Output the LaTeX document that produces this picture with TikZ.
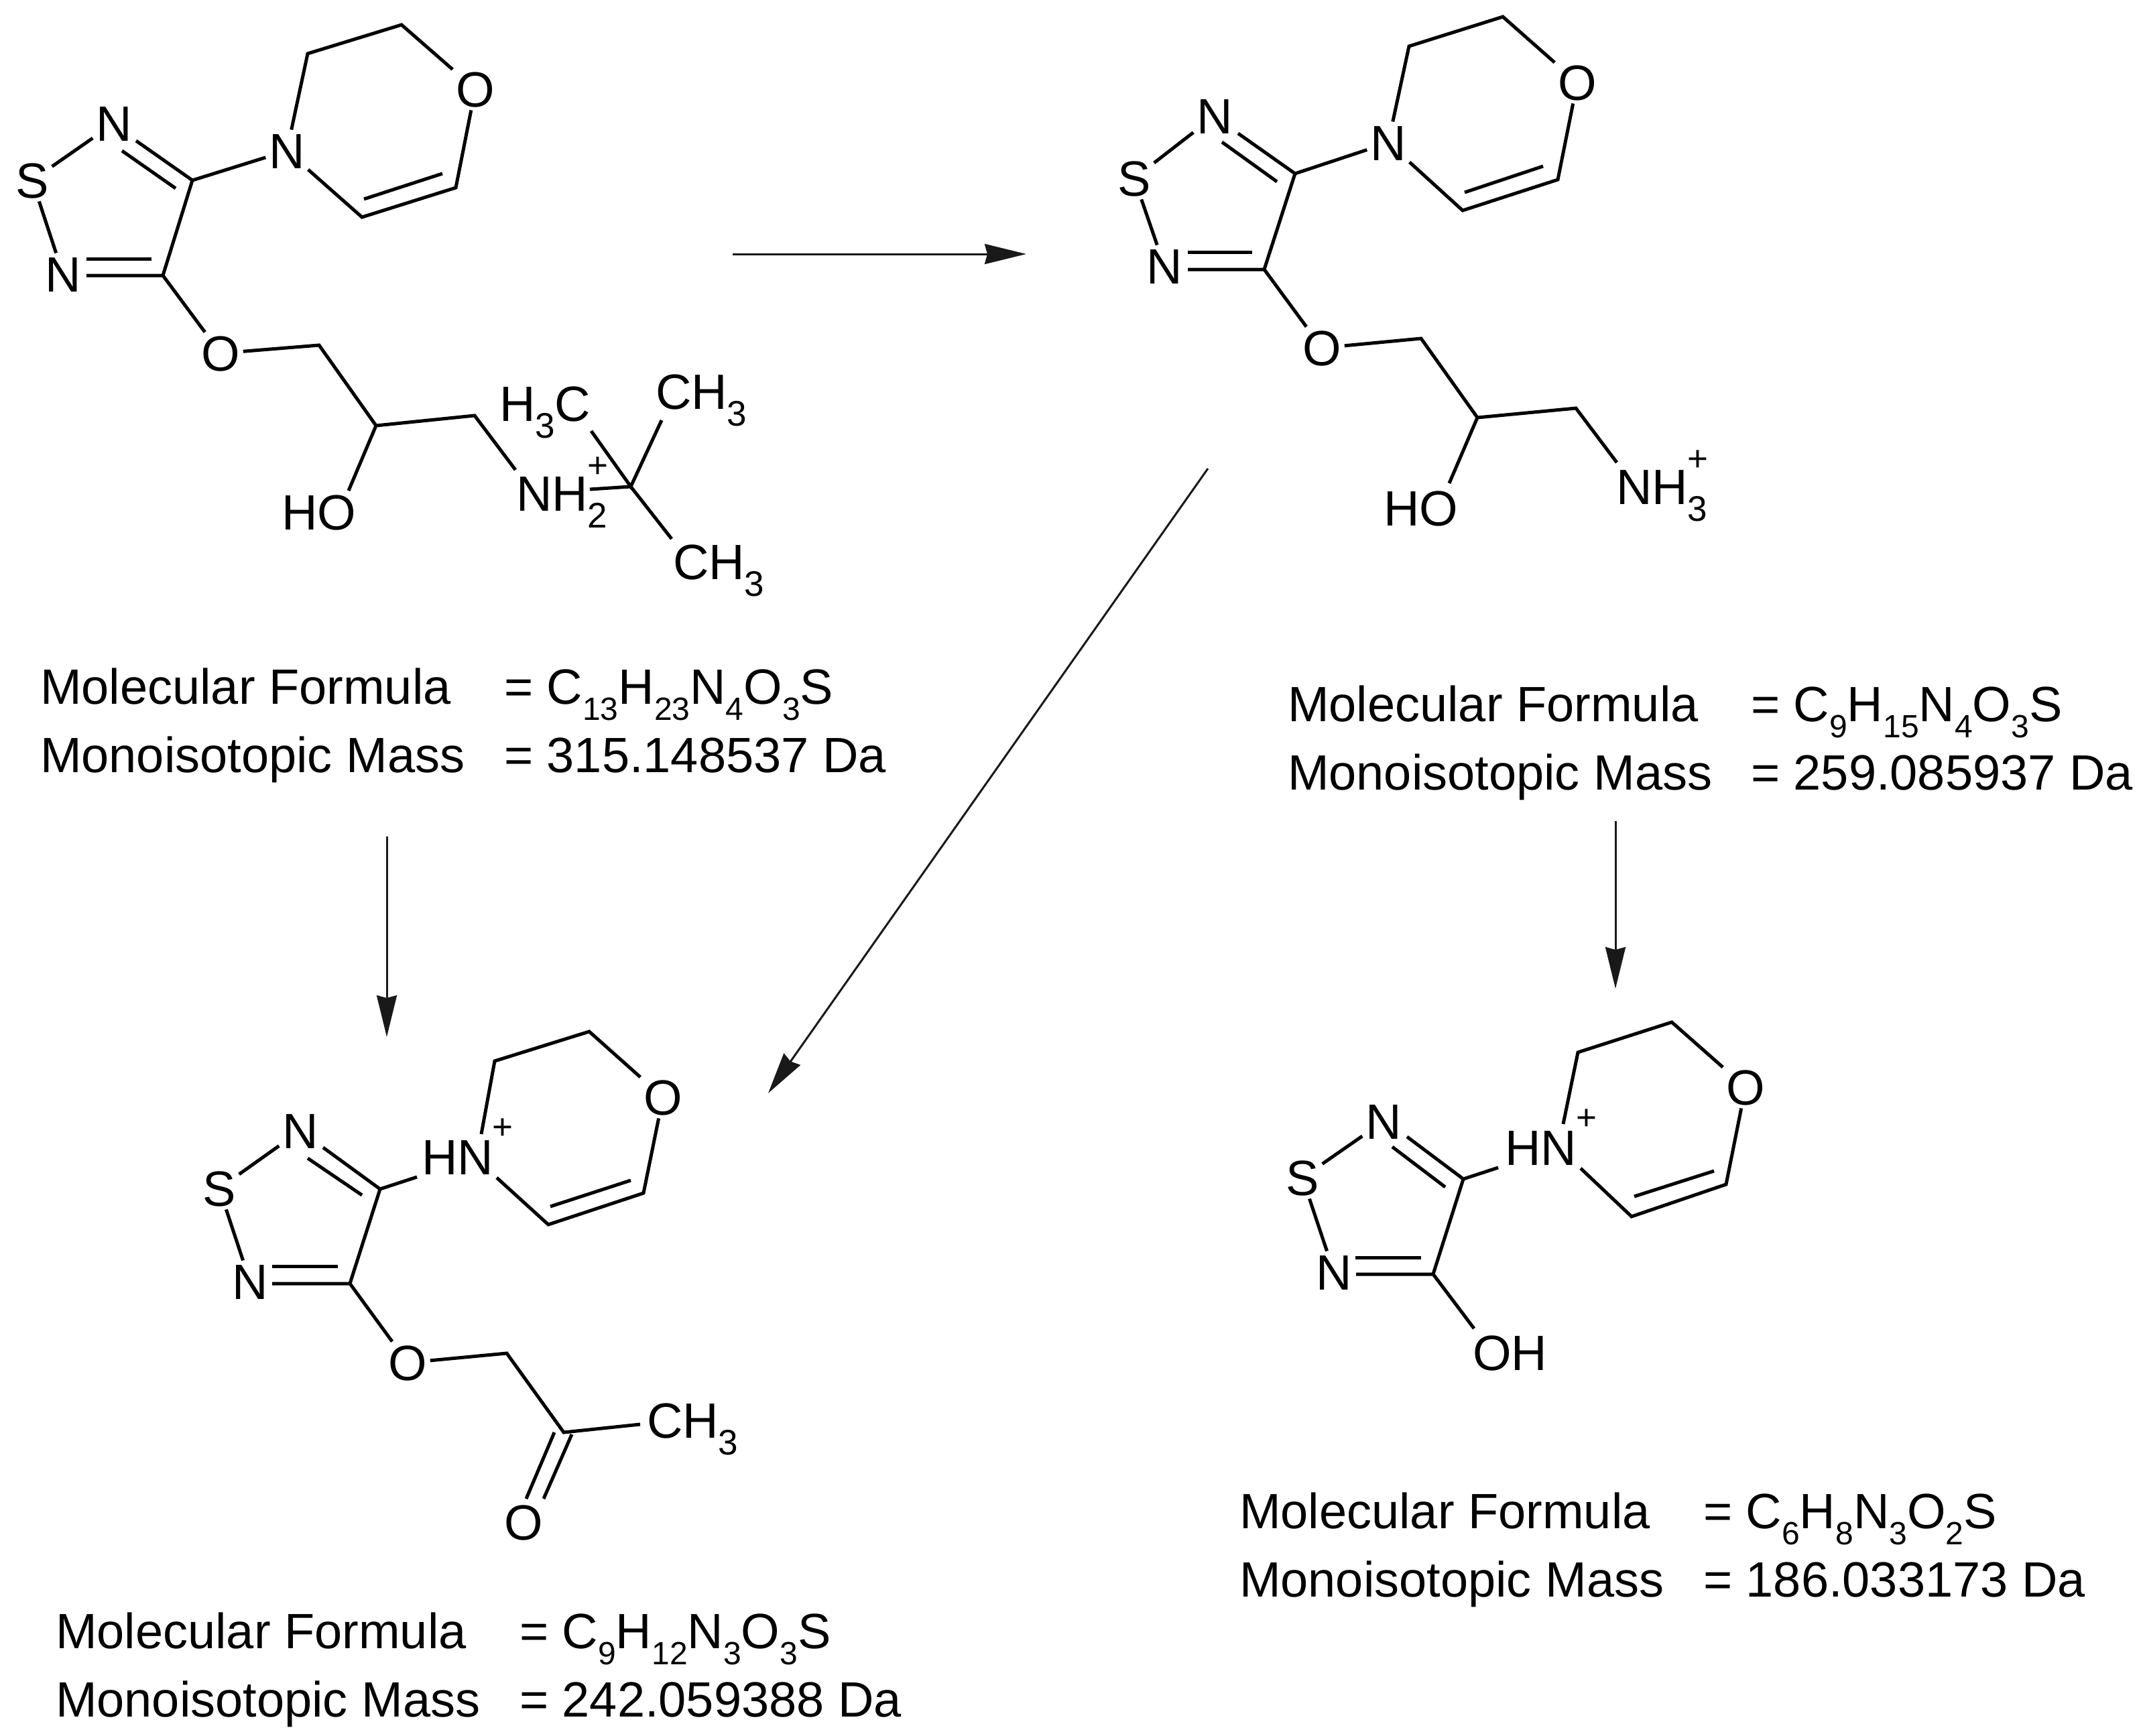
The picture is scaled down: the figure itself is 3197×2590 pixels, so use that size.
\documentclass[tikz,border=0pt]{standalone}
\usepackage{fontspec}
\setmainfont{Liberation Sans}
\usetikzlibrary{arrows.meta}
\newcommand\bigf{\fontsize{74pt}{84pt}\selectfont}
\newcommand\subf{\fontsize{48pt}{54pt}\selectfont}
\newcommand\subg{\fontsize{53pt}{58pt}\selectfont}
\newcommand\sbn[1]{\raisebox{-24pt}{\subf #1}}
\newcommand\sbm[1]{\raisebox{-25pt}{\subg #1}}
\newcommand\spl{\raisebox{50pt}{\subg +}}
\newcommand\stk[1]{\rlap{\sbm{#1}}\spl}
\tikzset{
  atom/.style={font=\bigf,text height=53pt,text depth=0pt,inner sep=5pt,outer sep=0pt,anchor=center,text=black},
  lbl/.style={font=\bigf,inner sep=0pt,outer sep=0pt,anchor=base west,text=black},
  plusmark/.style={font=\subg,inner sep=0pt,outer sep=0pt,anchor=center,text=black},
  bond/.style={line width=5pt,draw=black,line cap=butt,line join=miter},
  rxn/.style={line width=3pt,draw=black!90,-{Stealth[length=62pt,width=30pt,inset=4pt]}}
}
\begin{document}
\begin{tikzpicture}[x=1pt,y=-1pt]
\useasboundingbox (0,0) rectangle (3197,2590);
\fill[white] (0,0) rectangle (3197,2590);

% ---------- Molecule A ----------
\node[atom] (aNm) at (428,225) {N};
\node[atom] (aO) at (709,133) {O};
\node[atom] (aN1) at (170,184) {N};
\node[atom] (aS) at (48,269) {S};
\node[atom] (aN2) at (94,409) {N};
\node[atom] (aOe) at (329,527) {O};
\node[lbl] (aHO) at (420,790) {HO};
\node[lbl] (aNH) at (770,762) {NH\stk{2}};
\node[lbl] (aMe1) at (745,628) {H\sbm{3}C};
\node[lbl] (aMe2) at (978,610) {CH\sbm{3}};
\node[lbl] (aMe3) at (1004,864) {CH\sbm{3}};
\coordinate (ac1) at (459,80);
\coordinate (ac2) at (599,37);
\coordinate (ac3) at (680,280);
\coordinate (ac4) at (540,324);
\coordinate (ai1) at (543,297);
\coordinate (ai2) at (660,259);
\coordinate (ac5) at (287,269);
\coordinate (ac6) at (243,411);
\coordinate (am1) at (203,210);
\coordinate (ai3) at (182,225);
\coordinate (ai4) at (262,281);
\coordinate (am2) at (129,411);
\coordinate (ai5) at (129,386);
\coordinate (ai6) at (226,386);
\coordinate (ac7) at (476,515);
\coordinate (ac8) at (561,635);
\coordinate (ac9) at (708,620);
\coordinate (aq) at (941,726);
\coordinate (aeHO) at (520,732);
\coordinate (aeNH) at (769,701);
\coordinate (aeNq) at (880,730);
\coordinate (aeM1) at (882,643);
\coordinate (aeM2) at (987,627);
\coordinate (aeM3) at (1002,804);
\draw[bond] (aNm) -- (ac1) -- (ac2) -- (aO);
\draw[bond] (aO) -- (ac3) -- (ac4) -- (aNm);
\draw[bond] (ai1) -- (ai2);
\draw[bond] (aNm) -- (ac5);
\draw[bond] (aS) -- (aN1);
\draw[bond] (aS) -- (aN2);
\draw[bond] (am1) -- (ac5) -- (ac6) -- (am2);
\draw[bond] (ai3) -- (ai4);
\draw[bond] (ai5) -- (ai6);
\draw[bond] (ac6) -- (aOe);
\draw[bond] (aOe) -- (ac7) -- (ac8) -- (ac9) -- (aeNH);
\draw[bond] (ac8) -- (aeHO);
\draw[bond] (aeNq) -- (aq);
\draw[bond] (aeM1) -- (aq) -- (aeM2);
\draw[bond] (aq) -- (aeM3);
\node[lbl] (at1) at (60,1050) {Molecular Formula};
\node[lbl] (at2) at (752,1050) {= C\sbn{13}H\sbn{23}N\sbn{4}O\sbn{3}S};
\node[lbl] (at3) at (60,1152) {Monoisotopic Mass};
\node[lbl] (at4) at (752,1152) {= 315.148537 Da};

% ---------- Molecule B ----------
\node[atom] (bNm) at (2071,213) {N};
\node[atom] (bO) at (2353,123) {O};
\node[atom] (bN1) at (1812,173) {N};
\node[atom] (bS) at (1692,266) {S};
\node[atom] (bN2) at (1737,397) {N};
\node[atom] (bOe) at (1972,519) {O};
\node[lbl] (bHO) at (2064,784) {HO};
\node[lbl] (bNH) at (2411,752) {NH\stk{3}};
\coordinate (bc1) at (2102,69);
\coordinate (bc2) at (2242,25);
\coordinate (bc3) at (2324,268);
\coordinate (bc4) at (2182,314);
\coordinate (bi1) at (2185,287);
\coordinate (bi2) at (2302,248);
\coordinate (bc5) at (1932,259);
\coordinate (bc6) at (1886,402);
\coordinate (bm1) at (1847,199);
\coordinate (bi3) at (1823,212);
\coordinate (bi4) at (1905,271);
\coordinate (bm2) at (1772,402);
\coordinate (bi5) at (1772,376);
\coordinate (bi6) at (1868,376);
\coordinate (bc7) at (2120,505);
\coordinate (bc8) at (2204,623);
\coordinate (bc9) at (2351,609);
\coordinate (beHO) at (2162,721);
\coordinate (beNH) at (2412,690);
\draw[bond] (bNm) -- (bc1) -- (bc2) -- (bO);
\draw[bond] (bO) -- (bc3) -- (bc4) -- (bNm);
\draw[bond] (bi1) -- (bi2);
\draw[bond] (bNm) -- (bc5);
\draw[bond] (bS) -- (bN1);
\draw[bond] (bS) -- (bN2);
\draw[bond] (bm1) -- (bc5) -- (bc6) -- (bm2);
\draw[bond] (bi3) -- (bi4);
\draw[bond] (bi5) -- (bi6);
\draw[bond] (bc6) -- (bOe);
\draw[bond] (bOe) -- (bc7) -- (bc8) -- (bc9) -- (beNH);
\draw[bond] (bc8) -- (beHO);
\node[lbl] (bt1) at (1921,1076) {Molecular Formula};
\node[lbl] (bt2) at (2612,1076) {= C\sbn{9}H\sbn{15}N\sbn{4}O\sbn{3}S};
\node[lbl] (bt3) at (1921,1178) {Monoisotopic Mass};
\node[lbl] (bt4) at (2612,1178) {= 259.085937 Da};

% ---------- Molecule C ----------
\node[lbl] (cHN) at (629,1752) {HN};
\node[plusmark] (cpl) at (750,1684) {+};
\node[atom] (cO) at (989,1637) {O};
\node[atom] (cN1) at (448,1687) {N};
\node[atom] (cS) at (327,1773) {S};
\node[atom] (cN2) at (373,1912) {N};
\node[atom] (cOe) at (608,2033) {O};
\node[atom] (cOk) at (781,2271) {O};
\node[lbl] (cMe) at (965,2145) {CH\sbm{3}};
\coordinate (cc1) at (738,1583);
\coordinate (cc2) at (879,1539);
\coordinate (cc3) at (960,1780);
\coordinate (cc4) at (818,1827);
\coordinate (ci1) at (821,1800);
\coordinate (ci2) at (941,1761);
\coordinate (cc5) at (567,1774);
\coordinate (cc6) at (522,1915);
\coordinate (cm1) at (482,1712);
\coordinate (ci3) at (459,1728);
\coordinate (ci4) at (540,1783);
\coordinate (cm2) at (406,1915);
\coordinate (ci5) at (406,1889);
\coordinate (ci6) at (504,1889);
\coordinate (cc7) at (756,2019);
\coordinate (cc8) at (841,2137);
\coordinate (cd1) at (853,2140);
\coordinate (cd2) at (811,2236);
\coordinate (cd3) at (827,2137);
\coordinate (cd4) at (785,2236);
\coordinate (ceMe) at (955,2125);
\coordinate (ceN1) at (718,1692);
\coordinate (ceN2) at (741,1757);
\coordinate (ceN3) at (622,1756);
\draw[bond] (ceN1) -- (cc1) -- (cc2) -- (cO);
\draw[bond] (cO) -- (cc3) -- (cc4) -- (ceN2);
\draw[bond] (ci1) -- (ci2);
\draw[bond] (ceN3) -- (cc5);
\draw[bond] (cS) -- (cN1);
\draw[bond] (cS) -- (cN2);
\draw[bond] (cm1) -- (cc5) -- (cc6) -- (cm2);
\draw[bond] (ci3) -- (ci4);
\draw[bond] (ci5) -- (ci6);
\draw[bond] (cc6) -- (cOe);
\draw[bond] (cOe) -- (cc7) -- (cc8) -- (ceMe);
\draw[bond] (cd1) -- (cd2);
\draw[bond] (cd3) -- (cd4);
\node[lbl] (ct1) at (83,2459) {Molecular Formula};
\node[lbl] (ct2) at (775,2459) {= C\sbn{9}H\sbn{12}N\sbn{3}O\sbn{3}S};
\node[lbl] (ct3) at (83,2561) {Monoisotopic Mass};
\node[lbl] (ct4) at (775,2561) {= 242.059388 Da};

% ---------- Molecule D ----------
\node[lbl] (dHN) at (2245,1738) {HN};
\node[plusmark] (dpl) at (2367,1670) {+};
\node[atom] (dO) at (2604,1622) {O};
\node[atom] (dN1) at (2064,1673) {N};
\node[atom] (dS) at (1943,1757) {S};
\node[atom] (dN2) at (1990,1898) {N};
\node[lbl] (dOH) at (2197,2044) {OH};
\coordinate (dc1) at (2354,1570);
\coordinate (dc2) at (2494,1525);
\coordinate (dc3) at (2575,1767);
\coordinate (dc4) at (2434,1815);
\coordinate (di1) at (2438,1785);
\coordinate (di2) at (2557,1747);
\coordinate (dc5) at (2183,1759);
\coordinate (dc6) at (2138,1901);
\coordinate (dm1) at (2099,1696);
\coordinate (di3) at (2077,1711);
\coordinate (di4) at (2156,1771);
\coordinate (dm2) at (2023,1901);
\coordinate (di5) at (2022,1876);
\coordinate (di6) at (2120,1876);
\coordinate (deOH) at (2199,1982);
\coordinate (deN1) at (2332,1677);
\coordinate (deN2) at (2358,1743);
\coordinate (deN3) at (2235,1742);
\draw[bond] (deN1) -- (dc1) -- (dc2) -- (dO);
\draw[bond] (dO) -- (dc3) -- (dc4) -- (deN2);
\draw[bond] (di1) -- (di2);
\draw[bond] (deN3) -- (dc5);
\draw[bond] (dS) -- (dN1);
\draw[bond] (dS) -- (dN2);
\draw[bond] (dm1) -- (dc5) -- (dc6) -- (dm2);
\draw[bond] (di3) -- (di4);
\draw[bond] (di5) -- (di6);
\draw[bond] (dc6) -- (deOH);
\node[lbl] (dt1) at (1849,2280) {Molecular Formula};
\node[lbl] (dt2) at (2541,2280) {= C\sbn{6}H\sbn{8}N\sbn{3}O\sbn{2}S};
\node[lbl] (dt3) at (1849,2382) {Monoisotopic Mass};
\node[lbl] (dt4) at (2541,2382) {= 186.033173 Da};

% ---------- Reaction arrows ----------
\coordinate (r1s) at (1093,379);
\coordinate (r1e) at (1531,379);
\coordinate (r2s) at (577,1248);
\coordinate (r2e) at (577,1547);
\coordinate (r3s) at (1802,699);
\coordinate (r3e) at (1146,1631);
\coordinate (r4s) at (2410,1225);
\coordinate (r4e) at (2410,1475);
\draw[rxn] (r1s) -- (r1e);
\draw[rxn] (r2s) -- (r2e);
\draw[rxn] (r3s) -- (r3e);
\draw[rxn] (r4s) -- (r4e);
\end{tikzpicture}
\end{document}
